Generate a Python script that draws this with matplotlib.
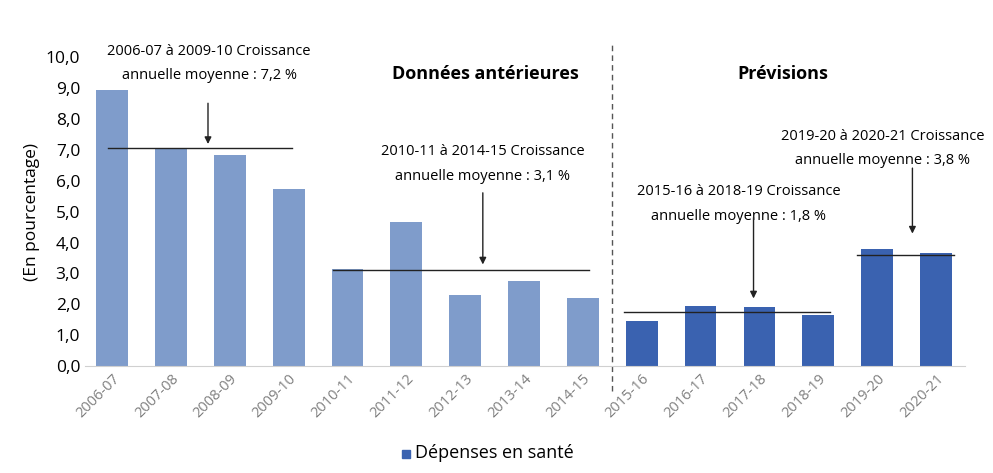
import matplotlib.pyplot as plt
import numpy as np

plt.rcParams['font.family'] = ['Open Sans', 'DejaVu Sans']

years = ['2006-07', '2007-08', '2008-09', '2009-10', '2010-11', '2011-12', '2012-13',
         '2013-14', '2014-15', '2015-16', '2016-17', '2017-18', '2018-19', '2019-20', '2020-21']
growth = [8.95, 7.05, 6.85, 5.75, 3.15, 4.65, 2.3, 2.75, 2.2, 1.45, 1.95, 1.9, 1.65, 3.8, 3.65]
n_hist = 9
avg_lines = [(7.05, -0.07, 3.05), (3.1, 3.75, 8.1), (1.75, 8.7, 12.2), (3.6, 12.65, 14.3)]

light, dark = '#7f9ccb', '#3a62b0'
colors = [light] * n_hist + [dark] * (len(years) - n_hist)

fig = plt.figure(figsize=(9.93, 4.73), dpi=100)
ax = fig.add_axes([0.0856, 0.226, 0.886, 0.653])
x = np.arange(len(years))
ax.bar(x, growth, width=0.54, color=colors)

for y, x0, x1 in avg_lines:
    ax.plot([x0, x1], [y, y], color='#222222', lw=1)

ax.set_xlim(-0.46, 14.49)
ax.set_ylim(0, 10)
ax.set_yticks(np.arange(0, 10.1, 1))
ax.set_yticklabels([f'{v:.1f}'.replace('.', ',') for v in np.arange(0, 10.1, 1)], fontsize=12.5)
ax.set_xticks(x)
ax.set_xticklabels(years, rotation=45, ha='right', rotation_mode='anchor',
                   fontsize=10.5, color='#7f7f7f')
ax.tick_params(length=0)
for s in ['top', 'right', 'left']:
    ax.spines[s].set_visible(False)
ax.spines['bottom'].set_color('#d0d0d0')
ax.set_ylabel('(En pourcentage)', fontsize=12.5)

ax.plot([8.5, 8.5], [-0.8, 10.4], color='#555555', lw=1, ls=(0, (4, 3)), clip_on=False)

ax.text(6.35, 9.3, 'Données antérieures', fontsize=13, fontweight='bold', ha='center')
ax.text(11.4, 9.3, 'Prévisions', fontsize=13, fontweight='bold', ha='center')

notes = [
    ('2006-07 à 2009-10 Croissance\nannuelle moyenne : 7,2 %', 1.65, 9.15, 1.63, 8.6, 7.1),
    ('2010-11 à 2014-15 Croissance\nannuelle moyenne : 3,1 %', 6.3, 5.9, 6.3, 5.7, 3.2),
    ('2015-16 à 2018-19 Croissance\nannuelle moyenne : 1,8 %', 10.65, 4.6, 10.9, 4.9, 2.1),
    ('2019-20 à 2020-21 Croissance\nannuelle moyenne : 3,8 %', 13.1, 6.4, 13.6, 6.5, 4.2),
]
for txt, tx, ty, axx, y0, y1 in notes:
    ax.text(tx, ty, txt, fontsize=10.5, ha='center', va='bottom', linespacing=1.9)
    ax.annotate('', xy=(axx, y1), xytext=(axx, y0),
                arrowprops=dict(arrowstyle='-|>', color='#222222', lw=1))

fig.patches.append(plt.Rectangle((0.405, 0.032), 0.008, 0.017, color=dark,
                                 transform=fig.transFigure, figure=fig))
fig.text(0.418, 0.042, 'Dépenses en santé', fontsize=13, va='center')

fig.savefig('out.png', dpi=100)
